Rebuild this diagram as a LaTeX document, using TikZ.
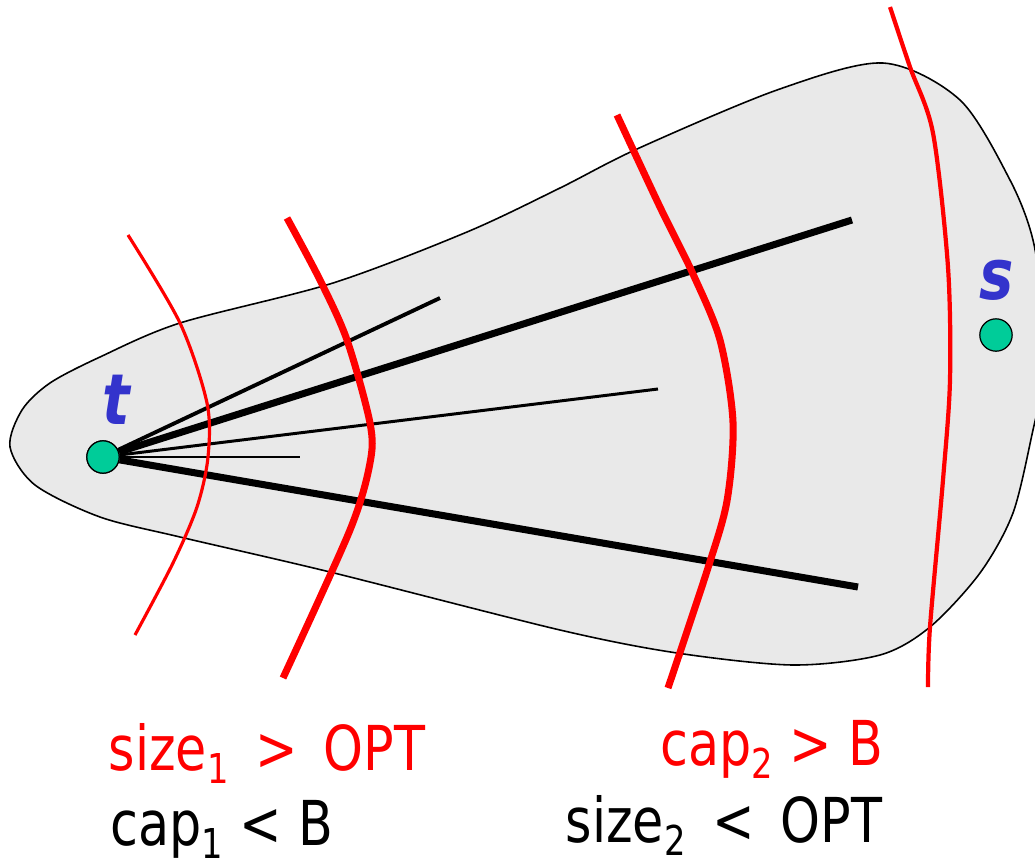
\documentclass[tikz,border=0pt]{standalone}
\usepackage{fontspec}
\setmainfont{DejaVu Sans}[FakeStretch=0.82]
\definecolor{blobgray}{RGB}{233,233,233}
\definecolor{vtxgreen}{RGB}{0,204,153}
\definecolor{vtxblue}{RGB}{51,51,204}
\newcommand{\lowidx}[1]{\raisebox{-3.7pt}{\fontsize{11.7}{12}\selectfont #1}}
\begin{document}
\begin{tikzpicture}[x=0.01cm, y=-0.01cm,
    vertex/.style={circle, draw, line width=0.35pt, fill=vtxgreen, minimum size=9.2pt, inner sep=0pt},
    vname/.style={text=vtxblue, font=\fontsize{20}{20}\selectfont\bfseries\itshape},
    cond/.style={anchor=base west, inner sep=0pt, font=\fontsize{17.6}{20}\selectfont},
    spoke/.style={line width=#1},
    cut/.style={red, line width=#1}]
    \useasboundingbox (0,0) rectangle (1035,863);
    \draw[fill=blobgray, line width=0.45pt] plot[smooth cycle] coordinates {(10,447) (22,410) (50,383) (100,357) (180,323) (333,283) (467,232) (560,188) (637,149) (777,90) (883,63) (960,100) (1010,180) (1033,240) (1044,320) (1043,380) (1033,430) (1013,513) (980,573) (930,627) (880,655) (793,665) (677,653) (560,630) (330,572) (180,537) (100,517) (35,485)};
    % vertices
    \node[vertex] (t) at (103,457) {};
    \node[vertex] (s) at (996,335) {};
    \node[vname] (tname) at (116,400) {t};
    \node[vname] (sname) at (997,280) {s};
    % paths leaving t
    \coordinate (pa) at (440,298);
    \coordinate (pb) at (852,220);
    \coordinate (pc) at (658,389);
    \coordinate (pd) at (300,457);
    \coordinate (pe) at (858,587);
    \draw[spoke=1.1pt] (t) -- (pa);
    \draw[spoke=2pt] (t) -- (pb);
    \draw[spoke=0.85pt] (t) -- (pc);
    \draw[spoke=0.45pt] (t) -- (pd);
    \draw[spoke=2pt] (t) -- (pe);
    \node[vertex] at (t) {};
    % cuts
    \draw[cut=0.9pt] plot[smooth] coordinates {(128,235) (180,323) (207,403) (208,457) (197,507) (173,563) (135,635)};
    \draw[cut=2pt] plot[smooth] coordinates {(287,218) (320,280) (347,340) (370,423) (370,463) (350,530) (283,678)};
    \draw[cut=2pt] plot[smooth] coordinates {(617,115) (660,207) (693,274) (720,340) (733,422) (727,501) (707,571) (668,688)};
    \draw[cut=1.2pt] plot[smooth] coordinates {(890,7) (910,67) (933,133) (948,267) (950,380) (943,480) (930,627) (928,687)};
    % conditions
    \node[cond, text=red] (size1) at (108,770) {size\lowidx{1} \,>\, OPT};
    \node[cond] (cap1) at (110,845) {cap\lowidx{1} < B};
    \node[cond, text=red] (cap2) at (660,765) {cap\lowidx{2} > B};
    \node[cond] (size2) at (565,842) {size\lowidx{2} \,<\, OPT};
\end{tikzpicture}
\end{document}
